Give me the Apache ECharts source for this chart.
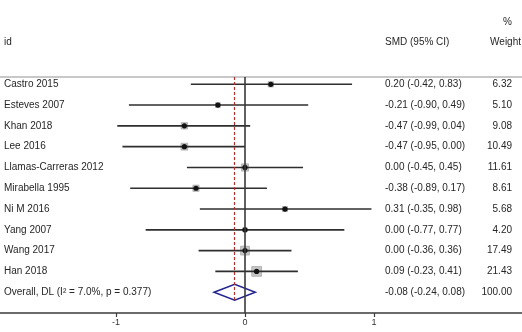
<!DOCTYPE html>
<html>
<head>
<meta charset="utf-8">
<script src="https://cdn.jsdelivr.net/npm/echarts@6/dist/echarts.min.js"></script>
<style>
  html, body { margin: 0; padding: 0; background: #fff; }
  #chart { width: 522px; height: 332px; }
</style>
</head>
<body>
<div id="chart"></div>
<script>
// Study-level standardized mean differences with 95% CIs and weights
const studies = ['Castro 2015', 'Esteves 2007', 'Khan 2018', 'Lee 2016', 'Llamas-Carreras 2012',
  'Mirabella 1995', 'Ni M 2016', 'Yang 2007', 'Wang 2017', 'Han 2018'];
const smd   = [0.20, -0.21, -0.47, -0.47, 0.00, -0.38, 0.31, 0.00, 0.00, 0.09];
const lower = [-0.42, -0.90, -0.99, -0.95, -0.45, -0.89, -0.35, -0.77, -0.36, -0.23];
const upper = [0.83, 0.49, 0.04, 0.00, 0.45, 0.17, 0.98, 0.77, 0.36, 0.41];
const weights = [6.32, 5.10, 9.08, 10.49, 11.61, 8.61, 5.68, 4.20, 17.49, 21.43];

// Pooled estimate (DerSimonian-Laird)
const overallLabel = 'Overall, DL (I\u00b2 = 7.0%, p = 0.377)';
const overallSmd = -0.08;
const overallLower = -0.24;
const overallUpper = 0.08;
const overallWeight = 100.00;

const xTicks = [-1, 0, 1];

const FONT = '"Liberation Sans", Arial, sans-serif';
const TEXT_COLOR = '#262626';

// rows: [row, est, lo, hi, weight, isOverall, label]
const rows = studies.map((s, i) => [i + 1, smd[i], lower[i], upper[i], weights[i], 0, s]);
rows.push([studies.length + 1, overallSmd, overallLower, overallUpper, overallWeight, 1, overallLabel]);

const fmt = v => v.toFixed(2);

function renderForest(params, api) {
  const row = api.value(0);
  const est = api.value(1), lo = api.value(2), hi = api.value(3), w = api.value(4);
  const isOverall = api.value(5) === 1;
  const pE = api.coord([est, row]);
  const pL = api.coord([lo, row]);
  const pH = api.coord([hi, row]);
  if (isOverall) {
    return {
      type: 'polygon',
      shape: { points: [[pL[0], pL[1]], [pE[0], pE[1] - 8], [pH[0], pH[1]], [pE[0], pE[1] + 8]] },
      style: { fill: 'none', stroke: '#23238f', lineWidth: 1.5 }
    };
  }
  // square area proportional to study weight
  const side = 2.1 * Math.sqrt(w);
  return {
    type: 'group',
    children: [
      { type: 'rect', shape: { x: pE[0] - side / 2, y: pE[1] - side / 2, width: side, height: side },
        style: { fill: '#c6c6c6', stroke: '#a8a8a8', lineWidth: 0.8 } },
      { type: 'line', shape: { x1: pL[0], y1: pL[1], x2: pH[0], y2: pH[1] },
        style: { stroke: '#2e2e2e', lineWidth: 1.6 } },
      { type: 'circle', shape: { cx: pE[0], cy: pE[1], r: 2.6 },
        style: { fill: '#111' } }
    ]
  };
}

function renderText(params, api) {
  const i = params.dataIndex;
  const r = rows[i];
  const y = api.coord([0, r[0]])[1];
  const base = { fontSize: 10, fontFamily: FONT, fill: TEXT_COLOR, verticalAlign: 'middle' };
  return {
    type: 'group',
    children: [
      { type: 'text', x: 4, y: y, style: Object.assign({ text: r[6], align: 'left' }, base) },
      { type: 'text', x: 385, y: y, style: Object.assign({ text: fmt(r[1]) + ' (' + fmt(r[2]) + ', ' + fmt(r[3]) + ')', align: 'left' }, base) },
      { type: 'text', x: 512, y: y, style: Object.assign({ text: fmt(r[4]), align: 'right' }, base) }
    ]
  };
}

const chart = echarts.init(document.getElementById('chart'), null, { renderer: 'canvas' });

const option = {
  animation: false,
  backgroundColor: '#fff',
  grid: { left: 0, right: 0, top: 77, bottom: 19, containLabel: false },
  xAxis: {
    type: 'value',
    min: -245 / 129,
    max: 277 / 129,
    splitLine: { show: false },
    axisLine: { show: true, lineStyle: { color: '#3a3a3a', width: 1.6 } },
    axisTick: { show: true, customValues: xTicks, length: 4, lineStyle: { color: '#3a3a3a', width: 1.2 } },
    axisLabel: { show: true, customValues: xTicks, fontSize: 9, fontFamily: FONT, color: '#333', margin: 5 }
  },
  yAxis: {
    type: 'value',
    inverse: true,
    min: 0.65,
    max: 12,
    show: false
  },
  graphic: [
    { type: 'line', shape: { x1: 0, y1: 77, x2: 522, y2: 77 }, style: { stroke: '#c8c8c8', lineWidth: 2 } },
    { type: 'text', x: 4, y: 42, style: { text: 'id', fontSize: 10, fontFamily: FONT, fill: TEXT_COLOR, verticalAlign: 'middle' } },
    { type: 'text', x: 385, y: 42, style: { text: 'SMD (95% CI)', fontSize: 10, fontFamily: FONT, fill: TEXT_COLOR, verticalAlign: 'middle' } },
    { type: 'text', x: 512, y: 22, style: { text: '%', fontSize: 10, fontFamily: FONT, fill: TEXT_COLOR, align: 'right', verticalAlign: 'middle' } },
    { type: 'text', x: 521, y: 42, style: { text: 'Weight', fontSize: 10, fontFamily: FONT, fill: TEXT_COLOR, align: 'right', verticalAlign: 'middle' } }
  ],
  series: [
    {
      type: 'custom',
      name: 'forest',
      renderItem: renderForest,
      encode: { x: [1, 2, 3], y: 0 },
      data: rows.map(r => r.slice(0, 6)),
      silent: true,
      z: 3,
      markLine: {
        silent: true,
        symbol: 'none',
        label: { show: false },
        data: [
          { xAxis: 0, lineStyle: { color: '#3a3a3a', width: 1.6, type: 'solid' } },
          [
            { coord: [overallSmd, 0.65], lineStyle: { color: '#b03030', width: 1.2, type: [3, 2] } },
            { coord: [overallSmd, studies.length + 1 + 8 / 20.8] }
          ]
        ]
      }
    },
    {
      type: 'custom',
      name: 'labels',
      renderItem: renderText,
      encode: { x: 1, y: 0 },
      data: rows.map(r => r.slice(0, 6)),
      silent: true,
      z: 4
    }
  ]
};

chart.setOption(option);
</script>
</body>
</html>
